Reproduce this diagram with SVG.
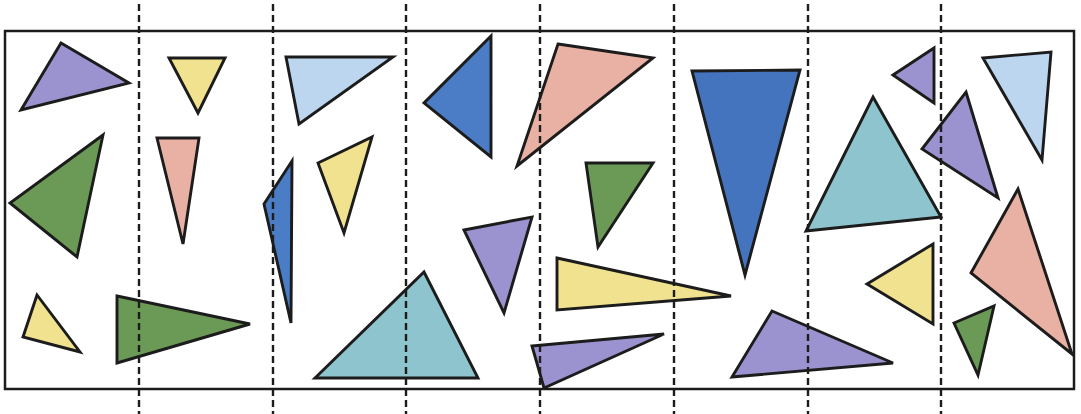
<svg xmlns="http://www.w3.org/2000/svg" width="1081" height="414" viewBox="0 0 1081 414">
<style>
.t{stroke:#1c1c1c;stroke-width:2.9;stroke-linejoin:miter}
.pu{fill:#9b93d0}.ye{fill:#f1e290}.lb{fill:#bdd6ef}.gr{fill:#6b9a57}
.pk{fill:#e9b1a3}.bl{fill:#4b7dc6}.db{fill:#4474bd}.te{fill:#8ec4cd}
.frame{fill:none;stroke:#1c1c1c;stroke-width:2.5}
.cut{stroke:#1c1c1c;stroke-width:2.4;stroke-dasharray:7 4}
</style>
<rect width="1081" height="414" fill="#ffffff"/>
<g id="shapes">
<polygon id="t1" class="t pu" points="61,43 129,83 21,110"/>
<polygon id="t2" class="t gr" points="103,135 10,203 77,257"/>
<polygon id="t3" class="t ye" points="37,295 23,337 80,352"/>
<polygon id="t4" class="t ye" points="169,58 225,58 198,113"/>
<polygon id="t5" class="t pk" points="157,138 199,138 183,244"/>
<polygon id="t6" class="t gr" points="117,296 250,324 117,363"/>
<polygon id="t7" class="t lb" points="286,57 393,57 299,124"/>
<polygon id="t8" class="t bl" points="292,161 264,204 291,323"/>
<polygon id="t9" class="t ye" points="318,163 372,137 344,233"/>
<polygon id="t10" class="t bl" points="491,36 424,103 491,157"/>
<polygon id="t11" class="t pu" points="464,230 532,217 504,313"/>
<polygon id="t12" class="t te" points="424,272 478,378 315,378"/>
<polygon id="t13" class="t pk" points="558,44 653,58 517,166"/>
<polygon id="t14" class="t gr" points="586,163 653,163 598,247"/>
<polygon id="t15" class="t ye" points="557,258 731,296 557,310"/>
<polygon id="t16" class="t pu" points="532,346 664,334 544,388"/>
<polygon id="t17" class="t db" points="692,71 800,70 745,275"/>
<polygon id="t18" class="t pu" points="772,311 893,363 732,377"/>
<polygon id="t19" class="t pu" points="893,75 934,48 934,103"/>
<polygon id="t20" class="t te" points="873,97 941,217 806,231"/>
<polygon id="t21" class="t ye" points="867,284 933,244 933,324"/>
<polygon id="t22" class="t lb" points="983,58 1051,52 1042,160"/>
<polygon id="t23" class="t pu" points="966,92 998,198 922,149"/>
<polygon id="t24" class="t pk" points="1018,189 1072,354 971,273"/>
<polygon id="t25" class="t gr" points="954,323 994,306 978,375"/>
</g>
<rect id="frame" class="frame" x="5" y="31" width="1069" height="358"/>
<g id="cuts">
<line class="cut" x1="139" y1="4" x2="139" y2="414"/>
<line class="cut" x1="273" y1="4" x2="273" y2="414"/>
<line class="cut" x1="406" y1="4" x2="406" y2="414"/>
<line class="cut" x1="540" y1="4" x2="540" y2="414"/>
<line class="cut" x1="674" y1="4" x2="674" y2="414"/>
<line class="cut" x1="808" y1="4" x2="808" y2="414"/>
<line class="cut" x1="941" y1="4" x2="941" y2="414"/>
</g>
</svg>
